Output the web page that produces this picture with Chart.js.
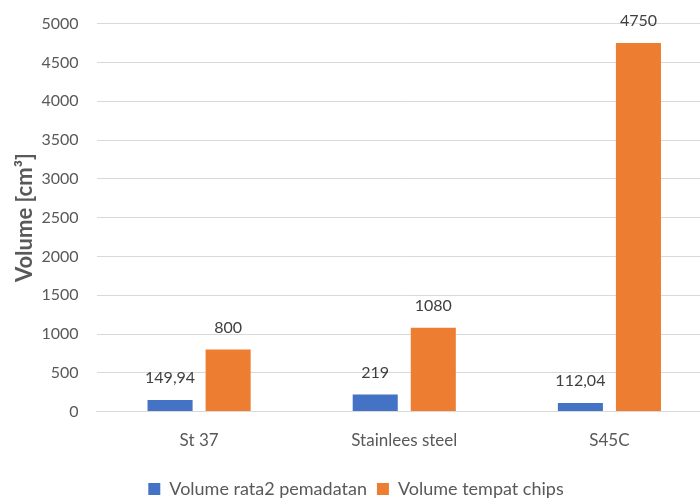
<!DOCTYPE html>
<html>
<head>
<meta charset="utf-8">
<script src="https://cdn.jsdelivr.net/npm/chart.js@4"></script>
<style>
  html, body { margin: 0; padding: 0; background: #fff; overflow: hidden; }
  #wrap { width: 712px; height: 512px; margin-top: -4px; }
</style>
</head>
<body>
<div id="wrap"><canvas id="c"></canvas></div>
<script>
const categories = ['St 37', 'Stainlees steel', 'S45C'];
const volumePemadatan = [149.94, 219, 112.04];
const volumeTempatChips = [800, 1080, 4750];
const yTicks = [0, 500, 1000, 1500, 2000, 2500, 3000, 3500, 4000, 4500, 5000];

const FONT = 'Lato, "Open Sans", sans-serif';
const GREY = '#595959';

// Writes each bar's value above it, with a comma as decimal separator
const valueLabels = {
  id: 'valueLabels',
  afterDatasetsDraw(chart) {
    const ctx = chart.ctx;
    ctx.save();
    ctx.font = '16px ' + FONT;
    ctx.fillStyle = '#404040';
    ctx.textAlign = 'center';
    ctx.textBaseline = 'middle';
    chart.data.datasets.forEach((ds, i) => {
      chart.getDatasetMeta(i).data.forEach((bar, j) => {
        const txt = String(ds.data[j]).replace('.', ',');
        ctx.fillText(txt, bar.x, bar.y - 22);
      });
    });
    ctx.restore();
  }
};

new Chart(document.getElementById('c'), {
  type: 'bar',
  data: {
    labels: categories,
    datasets: [
      { label: 'Volume rata2 pemadatan', data: volumePemadatan, backgroundColor: '#4472C4' },
      { label: 'Volume tempat chips', data: volumeTempatChips, backgroundColor: '#ED7D31' }
    ]
  },
  options: {
    responsive: true,
    maintainAspectRatio: false,
    animation: false,
    categoryPercentage: 0.566,
    barPercentage: 0.776,
    layout: { padding: { left: 0, top: 0, right: 0, bottom: 0 } },
    plugins: {
      tooltip: { enabled: false },
      legend: {
        position: 'bottom',
        labels: {
          boxWidth: 12, boxHeight: 12, padding: 10,
          color: GREY, font: { family: FONT, size: 18 }
        }
      }
    },
    scales: {
      x: {
        grid: { display: false, drawTicks: false },
        border: { display: true, color: '#d9d9d9' },
        ticks: { color: GREY, font: { family: FONT, size: 17 }, padding: 19 }
      },
      y: {
        min: 0, max: 5000,
        afterBuildTicks(axis) { axis.ticks = yTicks.map(v => ({ value: v })); },
        grid: { color: '#d9d9d9', drawTicks: false },
        border: { display: false },
        ticks: {
          color: GREY, font: { family: FONT, size: 16 }, padding: 18,
          callback: v => String(v)
        },
        title: {
          display: true, text: 'Volume [cm\u00B3]', color: GREY,
          font: { family: FONT, size: 22, weight: 'bold' },
          padding: { top: 12, bottom: -15 }
        }
      }
    }
  },
  plugins: [valueLabels]
});
</script>
</body>
</html>
